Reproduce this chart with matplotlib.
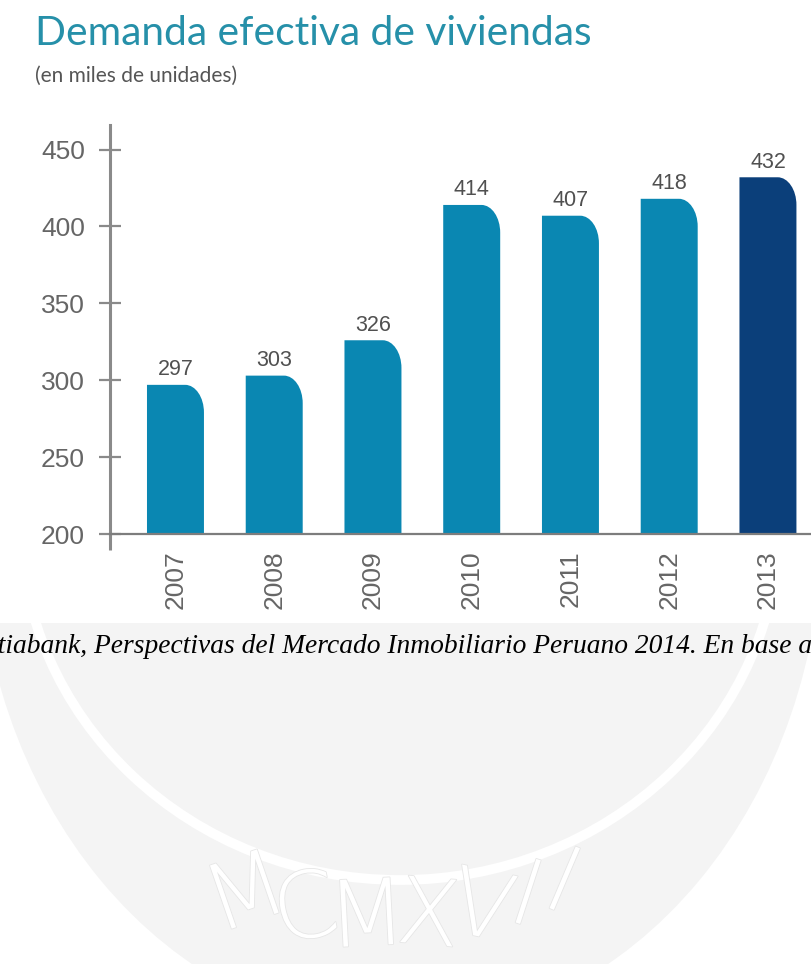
import numpy as np
import matplotlib
matplotlib.use("Agg")
import matplotlib.pyplot as plt
import matplotlib.patheffects as pe
from matplotlib.path import Path
from matplotlib.patches import PathPatch, Ellipse

# Demanda efectiva de viviendas (miles de unidades)
years = ["2007", "2008", "2009", "2010", "2011", "2012", "2013"]
demand = [297, 303, 326, 414, 407, 418, 432]
bar_colors = ["#0a87b2"] * 6 + ["#0b3f7a"]
y_ticks = [200, 250, 300, 350, 400, 450]

W, H = 811, 964
fig = plt.figure(figsize=(W / 100, H / 100), dpi=100)
fig.patch.set_facecolor("white")


def fx(px):
    return px / W


def fy(py):
    return 1 - py / H


# faint university seal in the page background
seal = Ellipse((fx(400), fy(520)), 2 * 423 / W, 2 * 510 / H, transform=fig.transFigure,
               facecolor="#f4f4f4", edgecolor="none", zorder=-5)
fig.patches.append(seal)
ring = Ellipse((fx(400), fy(520)), 2 * 380 / W, 2 * 360 / H, transform=fig.transFigure,
               facecolor="none", edgecolor="white", lw=7, zorder=-4)
fig.patches.append(ring)
seal_cx, seal_cy, seal_r = 390, 480, 440
for ch, a in zip("MCMXVII", [-19, -11, -3, 5, 12, 18, 23]):
    ang = np.deg2rad(a)
    fig.text(fx(seal_cx + seal_r * np.sin(ang)), fy(seal_cy + seal_r * np.cos(ang)), ch,
             fontsize=66, color="white", rotation=-a, ha="center", va="center",
             family="DejaVu Sans", fontweight="light", zorder=-3,
             path_effects=[pe.withStroke(linewidth=1.2, foreground="#e6e6e6")])

# white panel under the chart
panel = plt.Rectangle((0, fy(623)), 1, 623 / H, transform=fig.transFigure,
                      facecolor="white", edgecolor="none", zorder=-2)
fig.patches.append(panel)

ax = fig.add_axes([fx(110), fy(534), 701 / W, (534 - 125) / H])
ax.set_facecolor("none")

x = np.arange(len(years))
bars = ax.bar(x, np.array(demand) - 200, bottom=200, width=0.577, color=bar_colors)

# swap each rectangle for one with a rounded top-right corner
rx, ry, k = 0.19, 18.0, 0.5523
for rect, col in zip(bars, bar_colors):
    x0 = rect.get_x()
    x1 = x0 + rect.get_width()
    y0 = rect.get_y()
    top = y0 + rect.get_height()
    cx, cy = x1 - rx, top - ry
    verts = [(x0, y0), (x0, top), (cx, top),
             (cx + k * rx, top), (x1, cy + k * ry), (x1, cy),
             (x1, y0), (x0, y0)]
    codes = [Path.MOVETO, Path.LINETO, Path.LINETO,
             Path.CURVE4, Path.CURVE4, Path.CURVE4,
             Path.LINETO, Path.CLOSEPOLY]
    ax.add_patch(PathPatch(Path(verts, codes), facecolor=col, edgecolor="none", zorder=2))
    rect.set_visible(False)

for xi, v in zip(x, demand):
    ax.text(xi, v + 3, str(v), ha="center", va="bottom", fontsize=15.5,
            color="#505050", family="Liberation Sans")

ax.set_xlim(-0.663, 6.436)
ax.set_ylim(200, 466)
ax.set_yticks(y_ticks)
ax.set_yticklabels([str(t) for t in y_ticks], fontsize=19, color="#666666",
                   family="Liberation Sans")
ax.set_xticks(x)
ax.set_xticklabels(years, rotation=90, fontsize=19, color="#666666",
                   family="Liberation Sans")
ax.tick_params(axis="y", direction="inout", length=16, width=1.6, color="#8a8a8a", pad=10)
ax.tick_params(axis="x", length=0, pad=12)

for s in ["top", "right"]:
    ax.spines[s].set_visible(False)
ax.spines["left"].set_color("#8a8a8a")
ax.spines["left"].set_linewidth(2.2)
ax.spines["bottom"].set_color("#7d7d7d")
ax.spines["bottom"].set_linewidth(1.6)
# short stub of the y axis below the baseline
ax.plot([0, 0], [-0.04, 0], transform=ax.transAxes, color="#8a8a8a", lw=2.2,
        clip_on=False, solid_capstyle="butt")

fig.text(fx(35), fy(45), "Demanda efectiva de viviendas", fontsize=29.3,
         color="#2690a9", family="Lato", va="baseline")
fig.text(fx(35), fy(82), "(en miles de unidades)", fontsize=15,
         color="#555555", family="Lato", va="baseline")

fig.text(fx(-42), fy(653),
         "Scotiabank, Perspectivas del Mercado Inmobiliario Peruano 2014. En base a",
         fontsize=19.8, style="italic", family="Liberation Serif", color="black",
         va="baseline")

fig.savefig("out.png", dpi=100)
